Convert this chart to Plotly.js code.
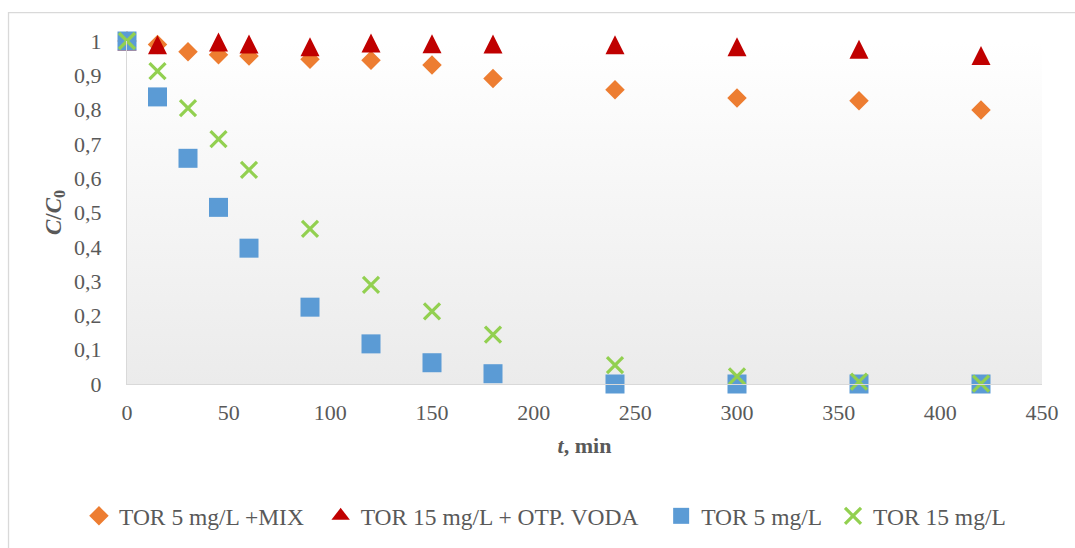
<!DOCTYPE html>
<html>
<head>
<meta charset="utf-8">
<script src="https://cdn.plot.ly/plotly-3.0.1.min.js"></script>
<style>
  html, body { margin: 0; padding: 0; background: #ffffff; }
  #chart { width: 1075px; height: 548px; }
</style>
</head>
<body>
<div id="chart"></div>
<script>
// Sampling times, min
const time = [0, 15, 30, 45, 60, 90, 120, 150, 180, 240, 300, 360, 420];
const timeOtp = [0, 15, 45, 60, 90, 120, 150, 180, 240, 300, 360, 420];

// Relative concentration C/C0 for each experiment
const torMix = [1, 0.990, 0.969, 0.960, 0.956, 0.947, 0.944, 0.930, 0.891, 0.858, 0.834, 0.826, 0.799];
const torOtp = [1, 0.989, 0.997, 0.991, 0.983, 0.994, 0.992, 0.991, 0.989, 0.983, 0.976, 0.958];
const tor5 = [1, 0.837, 0.658, 0.515, 0.396, 0.224, 0.117, 0.062, 0.030, 0.000, 0.000, 0.000, 0.000];
const tor15 = [1, 0.912, 0.804, 0.714, 0.624, 0.452, 0.289, 0.212, 0.144, 0.055, 0.022, 0.007, 0.001];

const seriesNames = [
  'TOR 5 mg/L +MIX',
  'TOR 15 mg/L + OTP. VODA',
  'TOR 5 mg/L',
  'TOR 15 mg/L'
];

const FONT = 'Liberation Serif, Times New Roman, serif';
const TXT = '#595959';
const NB = '\u00a0';

const traces = [
  {
    x: time, y: torMix, name: seriesNames[0] + NB + NB,
    type: 'scatter', mode: 'markers', cliponaxis: false,
    marker: { symbol: 'diamond', size: 15, color: '#ed7d31' }
  },
  {
    // downward arrow flipped upright and pushed back so the triangle sits centred on its point
    x: timeOtp, y: torOtp, name: seriesNames[1],
    type: 'scatter', mode: 'markers', cliponaxis: false, showlegend: false,
    legendgroup: 'otp',
    marker: { symbol: 'arrow-down', angle: 180, size: 19, standoff: 9.5, color: '#c00000' }
  },
  {
    // legend entry for the triangle series (no points of its own)
    x: [null], y: [null], name: seriesNames[1] + NB + NB + NB,
    type: 'scatter', mode: 'markers', legendgroup: 'otp',
    marker: { symbol: 'triangle-up', size: 16, color: '#c00000' }
  },
  {
    x: time, y: tor5, name: seriesNames[2] + NB,
    type: 'scatter', mode: 'markers', cliponaxis: false,
    marker: { symbol: 'square', size: 19, color: '#5b9bd5' }
  },
  {
    x: time, y: tor15, name: seriesNames[3],
    type: 'scatter', mode: 'markers', cliponaxis: false,
    marker: { symbol: 'x-thin', size: 16, color: '#92d050',
              line: { color: '#92d050', width: 3.2 } }
  }
];

// soft vertical fade behind the plotting area
const fadeSvg = '<svg xmlns="http://www.w3.org/2000/svg" width="10" height="100" preserveAspectRatio="none">' +
  '<defs><linearGradient id="g" x1="0" y1="0" x2="0" y2="1">' +
  '<stop offset="0" stop-color="#ffffff"/><stop offset="1" stop-color="#ebebeb"/>' +
  '</linearGradient></defs><rect width="10" height="100" fill="url(#g)"/></svg>';

const layout = {
  width: 1075, height: 548,
  margin: { l: 127, r: 33, t: 41, b: 163, pad: 0 },
  paper_bgcolor: 'rgba(0,0,0,0)',
  plot_bgcolor: 'rgba(0,0,0,0)',
  separators: ', ',
  font: { family: FONT, size: 22, color: TXT },
  showlegend: true,
  legend: {
    orientation: 'h',
    x: -0.0525, xanchor: 'left',
    y: -0.381, yanchor: 'middle',
    font: { family: FONT, size: 23.5, color: TXT },
    bgcolor: 'rgba(0,0,0,0)',
    itemwidth: 30,
    traceorder: 'normal'
  },
  xaxis: {
    range: [0, 450], dtick: 50, tick0: 0,
    showgrid: false, zeroline: false,
    showline: true, linecolor: '#d9d9d9', linewidth: 1,
    ticks: '', ticklabelstandoff: 9,
    tickfont: { family: FONT, size: 22, color: TXT },
    title: { text: '<b><i>t</i>, min</b>', font: { family: FONT, size: 22, color: TXT }, standoff: 13 },
    fixedrange: true
  },
  yaxis: {
    range: [0, 1], dtick: 0.1, tick0: 0,
    showgrid: false, zeroline: false,
    showline: true, linecolor: '#d9d9d9', linewidth: 1,
    ticks: '', ticklabelstandoff: 20,
    tickfont: { family: FONT, size: 22, color: TXT },
    title: { text: '<b><i>C</i>/<i>C</i><sub>0</sub></b>', font: { family: FONT, size: 23, color: TXT }, standoff: 6 },
    fixedrange: true
  },
  images: [{
    source: 'data:image/svg+xml;charset=utf-8,' + encodeURIComponent(fadeSvg),
    xref: 'paper', yref: 'paper', x: 0, y: 1, sizex: 1, sizey: 1,
    xanchor: 'left', yanchor: 'top', sizing: 'stretch', layer: 'below'
  }],
  shapes: [{
    type: 'rect', xref: 'paper', yref: 'paper',
    x0: -0.1295, x1: 1.05, y0: -0.55, y1: 1.0828,
    line: { color: '#d9d9d9', width: 1.3 }, fillcolor: 'rgba(0,0,0,0)', layer: 'below'
  }]
};

Plotly.newPlot('chart', traces, layout, { displayModeBar: false, staticPlot: true });
</script>
</body>
</html>
